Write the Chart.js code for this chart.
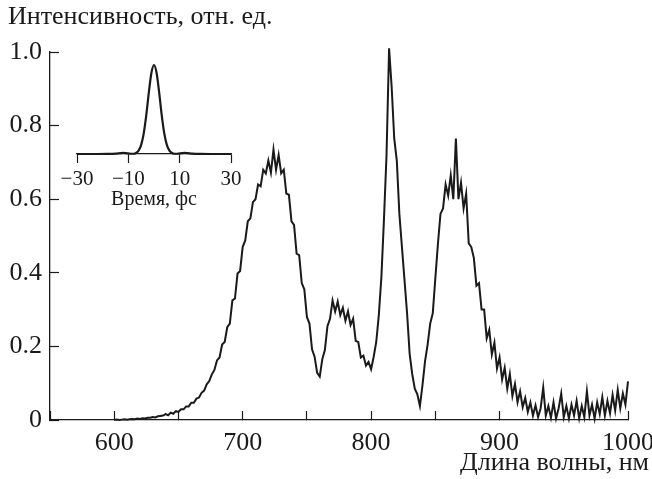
<!DOCTYPE html>
<html>
<head>
<meta charset="utf-8">
<script src="https://cdn.jsdelivr.net/npm/chart.js@4.4.1/dist/chart.umd.min.js"></script>
<style>
    html, body { margin: 0; padding: 0; background: #fff; }
    #wrap { position: relative; width: 652px; height: 479px; overflow: hidden; }
    #mainChart { position: absolute; left: 0; top: 0; }
    #insetChart { position: absolute; left: 40px; top: 55px; }
</style>
</head>
<body>
<div id="wrap">
    <canvas id="mainChart" width="652" height="479"></canvas>
    <canvas id="insetChart" width="230" height="160"></canvas>
</div>
<script>
// Spectrum: wavelength, nm
const wavelength = [
    600, 602, 604, 606, 608, 610, 612, 614, 616, 618, 620, 622, 624, 626, 628, 630, 632, 634, 636, 638,
    640, 642, 644, 646, 648, 650, 652, 654, 656, 658, 660, 662, 664, 666, 668, 670, 672, 674, 676, 678,
    680, 682, 684, 686, 688, 690, 692, 694, 696, 698, 700, 702, 704, 706, 708, 710, 712, 714, 716, 718,
    720, 722, 724, 726, 728, 730, 732, 734, 736, 738, 740, 742, 744, 746, 748, 750, 752, 754, 756, 758,
    760, 762, 764, 766, 768, 770, 772, 774, 776, 778, 780, 782, 784, 786, 788, 790, 792, 794, 796, 798,
    800, 802, 804, 806, 808, 810, 812, 814, 816, 818, 820, 822, 824, 826, 828, 830, 832, 834, 836, 838,
    840, 842, 844, 846, 848, 850, 852, 854, 856, 858, 860, 862, 864, 866, 868, 870, 872, 874, 876, 878,
    880, 882, 884, 886, 888, 890, 892, 894, 896, 898, 900, 902, 904, 906, 908, 910, 912, 914, 916, 918,
    920, 922, 924, 926, 928, 930, 932, 934, 936, 938, 940, 942, 944, 946, 948, 950, 952, 954, 956, 958,
    960, 962, 964, 966, 968, 970, 972, 974, 976, 978, 980, 982, 984, 986, 988, 990, 992, 994, 996, 998,
    1000
];

// Spectrum: intensity, rel. units (noisy)
const intensity = [
    0.000, 0.001, 0.000, 0.001, 0.002, 0.001, 0.002, 0.003, 0.002, 0.004, 0.003, 0.005, 0.004, 0.006, 0.006, 0.008, 0.007, 0.010, 0.011, 0.012,
    0.016, 0.013, 0.020, 0.017, 0.024, 0.022, 0.029, 0.029, 0.037, 0.037, 0.047, 0.047, 0.058, 0.061, 0.074, 0.080, 0.097, 0.106, 0.124, 0.136,
    0.162, 0.170, 0.205, 0.212, 0.252, 0.262, 0.325, 0.330, 0.398, 0.405, 0.470, 0.488, 0.540, 0.548, 0.592, 0.600, 0.640, 0.635, 0.680, 0.670,
    0.705, 0.672, 0.735, 0.680, 0.720, 0.670, 0.680, 0.615, 0.612, 0.540, 0.530, 0.452, 0.448, 0.372, 0.355, 0.280, 0.262, 0.192, 0.172, 0.128,
    0.118, 0.165, 0.190, 0.255, 0.275, 0.325, 0.295, 0.322, 0.285, 0.305, 0.270, 0.295, 0.258, 0.275, 0.215, 0.212, 0.170, 0.175, 0.148, 0.158,
    0.138, 0.172, 0.212, 0.285, 0.388, 0.545, 0.720, 1.010, 0.905, 0.765, 0.705, 0.560, 0.470, 0.380, 0.290, 0.180, 0.125, 0.085, 0.070, 0.038,
    0.095, 0.160, 0.205, 0.262, 0.290, 0.385, 0.478, 0.560, 0.575, 0.640, 0.610, 0.665, 0.600, 0.765, 0.600, 0.645, 0.575, 0.615, 0.480, 0.470,
    0.440, 0.365, 0.372, 0.300, 0.300, 0.222, 0.245, 0.178, 0.210, 0.140, 0.170, 0.110, 0.142, 0.085, 0.125, 0.065, 0.098, 0.048, 0.078, 0.035,
    0.060, 0.022, 0.048, 0.012, 0.040, 0.008, 0.032, 0.088, 0.012, 0.038, 0.006, 0.048, 0.004, 0.032, 0.072, 0.008, 0.038, 0.004, 0.042, 0.012,
    0.052, 0.004, 0.038, 0.008, 0.078, 0.012, 0.042, 0.004, 0.048, 0.016, 0.062, 0.012, 0.052, 0.018, 0.068, 0.026, 0.082, 0.032, 0.072, 0.042,
    0.105
];

// Inset: pulse shape vs time, fs
const pulseTime = [-30, -26, -22, -18, -15, -13, -12, -11, -9, -8, -7, -6, -5, -4, -3, -2, -1, 0,
                   1, 2, 3, 4, 5, 6, 7, 8, 9, 11, 12, 13, 15, 18, 22, 26, 30];
const pulseValue = [0, 0, 0, 0.001, 0.004, 0.010, 0.012, 0.010, 0.003, 0.003, 0.012, 0.037, 0.102, 0.232, 0.440, 0.694, 0.913, 1.0,
                    0.913, 0.694, 0.440, 0.232, 0.102, 0.037, 0.012, 0.003, 0.003, 0.010, 0.012, 0.010, 0.004, 0.001, 0, 0, 0];

const yTitle = 'Интенсивность, отн. ед.';
const xTitle = 'Длина волны, нм';
const insetTitle = 'Время, фс';

const ink = '#1a1a1a';
const serif = "'Liberation Serif', 'Times New Roman', serif";

Chart.defaults.font.family = serif;
Chart.defaults.color = ink;

// Main spectrum chart
new Chart(document.getElementById('mainChart'), {
    type: 'line',
    data: {
        labels: wavelength,
        datasets: [{
            data: intensity,
            borderColor: ink,
            borderWidth: 2,
            pointRadius: 0,
            tension: 0,
            fill: false,
            clip: false
        }]
    },
    options: {
        responsive: false,
        animation: false,
        events: [],
        layout: { padding: { left: 8, right: 3, top: 0, bottom: 0 } },
        plugins: {
            legend: { display: false },
            tooltip: { enabled: false },
            title: {
                display: true,
                text: yTitle,
                position: 'top',
                align: 'start',
                color: ink,
                font: { size: 26, weight: 'normal' },
                padding: { top: 1.4, bottom: 19.4 }
            },
            subtitle: {
                display: true,
                text: xTitle,
                position: 'bottom',
                align: 'end',
                color: ink,
                font: { size: 26, weight: 'normal' },
                // negative top padding lets the tick labels above keep their room
                padding: { top: -6, bottom: 0 }
            }
        },
        scales: {
            x: {
                type: 'linear',
                min: 550,
                max: 1000,
                ticks: {
                    stepSize: 50,
                    autoSkip: false,
                    maxRotation: 0,
                    padding: 16.4,
                    color: ink,
                    font: { size: 26 },
                    callback: v => (v % 100 === 0 ? String(v) : '')
                },
                grid: { drawOnChartArea: false, tickLength: -9, tickColor: ink, tickWidth: 1.2 },
                border: { color: ink, width: 1.3 },
                afterFit(scale) {
                    scale.height = 33.8;
                    scale.paddingLeft = 0;
                    scale.paddingRight = 24;
                }
            },
            y: {
                min: 0,
                max: 1,
                ticks: {
                    stepSize: 0.2,
                    padding: 17,
                    color: ink,
                    font: { size: 26 },
                    callback: v => (v === 0 ? '0' : v.toFixed(1))
                },
                grid: { drawOnChartArea: false, tickLength: -9, tickColor: ink, tickWidth: 1.2 },
                border: { color: ink, width: 1.3 },
                afterFit(scale) {
                    scale.width = 42;
                }
            }
        }
    }
});

// Inset: pulse in time domain
new Chart(document.getElementById('insetChart'), {
    type: 'line',
    data: {
        labels: pulseTime,
        datasets: [{
            data: pulseValue,
            borderColor: ink,
            borderWidth: 2.2,
            pointRadius: 0,
            cubicInterpolationMode: 'monotone',
            fill: false,
            clip: false
        }]
    },
    options: {
        responsive: false,
        animation: false,
        events: [],
        layout: { padding: { left: 37, right: 39, top: 10, bottom: 0 } },
        plugins: {
            legend: { display: false },
            tooltip: { enabled: false }
        },
        scales: {
            x: {
                type: 'linear',
                min: -30,
                max: 30,
                ticks: {
                    stepSize: 20,
                    autoSkip: false,
                    maxRotation: 0,
                    padding: 4,
                    color: ink,
                    font: { size: 21 },
                    callback: v => String(v).replace('-', '\u2212')
                },
                grid: { drawOnChartArea: false, tickLength: 9, tickColor: ink, tickWidth: 1.2 },
                border: { color: ink, width: 1.3 },
                title: {
                    display: true,
                    text: insetTitle,
                    color: ink,
                    font: { size: 20 },
                    padding: { top: 0, bottom: 3 }
                },
                afterFit(scale) {
                    scale.height = 61;
                    scale.paddingLeft = 0;
                    scale.paddingRight = 0;
                }
            },
            y: { display: false, min: 0, max: 1 }
        }
    }
});
</script>
</body>
</html>
